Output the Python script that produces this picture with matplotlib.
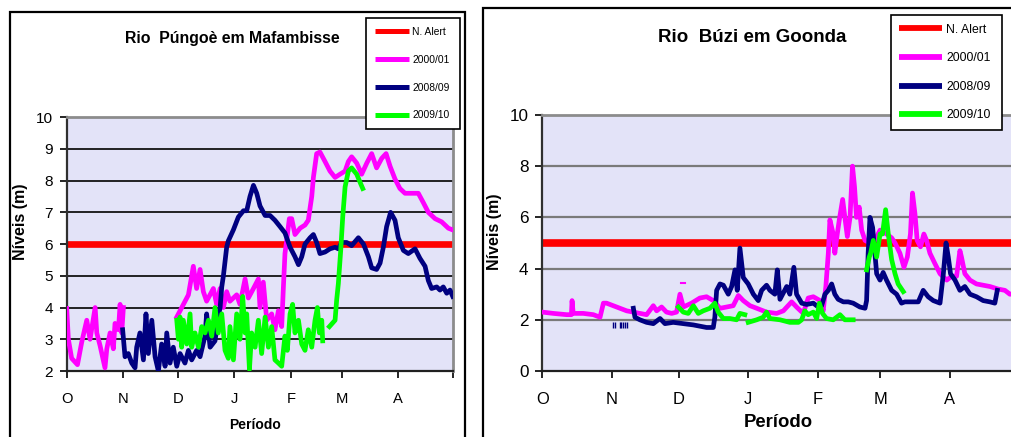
"""Water level charts for Rio Púngoè (Mafambisse) and Rio Búzi (Goonda)."""

import matplotlib

matplotlib.use("Agg")
import matplotlib.pyplot as plt
import numpy as np
from matplotlib import font_manager
from matplotlib.patches import Rectangle

NAN = np.nan

# x axis: days since 1 October, month ticks
MONTH_DAYS = [0, 31, 61, 92, 123, 151, 182, 212]
MONTH_LABELS = ["O", "N", "D", "J", "F", "M", "A", ""]
SERIES_LABELS = ["N. Alert", "2000/01", "2008/09", "2009/10"]

# ---- Rio Púngoè em Mafambisse ----
PUNGOE_ALERT = 6.0
pungoe_0001_day = [0.0, 0.9, 2.7, 5.9, 8.2, 11.0, 12.8, 15.6, 16.5, 18.3, 21.0, 22.0, 23.8,
                   25.6, 26.5, 28.4, 29.3, 30.2, 31.1, NAN,
                   60.4, 66.8, 69.5, 71.3, 73.2, 75.0, 76.8, 80.5, 82.3, 84.2, 86.0, 87.8,
                   89.6, 93.3, 95.1, 97.9, 99.7, 102.5, 105.2, 106.1, 107.9, 109.8, 112.5,
                   114.3, 116.2, 118.0, 118.9, 119.8, 120.7, 122.2, 123.5, 125.3, 128.1,
                   130.8, 132.6, 134.5, 135.4, 137.2, 139.0, 141.8, 144.5, 147.3, 150.0,
                   152.8, 154.6, 156.4, 159.2, 161.9, 164.7, 167.4, 170.1, 172.9, 175.3,
                   177.5, 180.2, 182.9, 185.7, 189.4, 193.0, 195.8, 198.5, 202.2, 205.8,
                   209.5, 211.7]
pungoe_0001_lvl = [3.97, 3.0, 2.4, 2.2, 2.9, 3.6, 3.0, 4.0, 3.2, 2.8, 2.1, 2.7, 3.2,
                   2.7, 3.5, 3.3, 4.1, 3.2, 4.0, NAN,
                   3.7, 4.4, 5.3, 4.6, 5.2, 4.5, 4.2, 4.6, 4.1, 4.6, 4.0, 4.5,
                   4.2, 4.4, 4.1, 4.9, 4.3, 4.6, 4.9, 4.0, 4.8, 3.6, 3.8,
                   3.3, 3.9, 3.4, 4.6, 5.7, 6.1, 6.8, 6.8, 6.3, 6.5,
                   6.6, 6.75, 7.5, 8.1, 8.85, 8.9, 8.6, 8.3, 8.1, 8.2,
                   8.3, 8.6, 8.75, 8.55, 8.2, 8.55, 8.85, 8.4, 8.7, 8.85,
                   8.45, 8.05, 7.75, 7.6, 7.6, 7.6, 7.3, 7.0, 6.8, 6.7,
                   6.5, 6.45]
pungoe_0809_day = [30.7, 32.0, 33.8, 35.7, 37.5, 38.4, 40.2, 42.1, 43.5, 44.8, 46.7, 48.5,
                   50.3, 52.1, 54.0, 54.9, 56.7, 58.5, 60.4, 62.2, 64.9, 66.8, 68.6, 71.3,
                   73.2, 75.9, 76.8, 78.7, 81.4, 83.2, 84.2, 85.1, 86.0, 87.8, 88.7, 91.5,
                   94.2, 97.0, 98.8, 100.6, 102.5, 104.3, 106.1, 108.9, 111.6, 114.3, 117.1,
                   119.8, 122.6, 125.3, 127.2, 129.0, 130.8, 133.6, 135.4, 137.2, 139.0,
                   141.8, 144.5, 147.3, 149.1, 150.9, 153.7, 156.4, 160.1, 162.9, 165.6,
                   167.4, 170.1, 172.0, 173.8, 175.6, 177.8, 180.2, 182.0, 184.8, 187.5,
                   191.2, 193.9, 196.7, 198.5, 200.3, 203.1, 204.9, 206.7, 208.6, 210.4,
                   211.9]
pungoe_0809_lvl = [3.3, 2.45, 2.55, 2.25, 2.1, 2.75, 3.2, 2.35, 3.8, 2.55, 3.6, 2.45,
                   2.0, 2.85, 2.15, 3.2, 2.25, 2.75, 2.15, 2.55, 2.25, 2.65, 2.35, 2.65,
                   2.45, 3.1, 3.8, 2.75, 2.95, 3.7, 4.0, 4.65, 5.0, 5.9, 6.1, 6.45,
                   6.85, 7.05, 7.05, 7.5, 7.85, 7.6, 7.2, 6.9, 6.9, 6.75, 6.55,
                   6.35, 5.9, 5.6, 5.35, 5.6, 6.0, 6.2, 6.3, 6.05, 5.7,
                   5.75, 5.85, 5.9, 5.85, 6.05, 6.05, 5.95, 6.2, 6.0, 5.6,
                   5.25, 5.2, 5.4, 5.9, 6.55, 7.0, 6.75, 6.2, 5.8, 5.7,
                   5.85, 5.55, 5.3, 4.85, 4.6, 4.65, 4.55, 4.65, 4.45, 4.55,
                   4.35]
pungoe_0910_day = [60.4, 61.3, 62.2, 63.1, 64.0, 65.9, 67.7, 68.6, 70.4, 72.3, 74.1, 75.9,
                   77.8, 79.6, 81.4, 83.2, 85.1, 86.9, 88.7, 89.6, 91.5, 93.3, 95.1, 96.6,
                   97.9, 98.8, 100.3, 101.5, 103.4, 105.2, 107.0, 108.9, 110.7, 112.5,
                   114.3, 116.2, 118.0, 119.8, 121.1, 122.6, 124.0, 125.3, 127.2, 129.0,
                   130.8, 132.6, 134.5, 136.3, 137.6, 138.7, 140.0, 140.5, NAN,
                   144.2, 147.3, 148.2, 149.1, 150.4, 151.5, 152.8, 154.6, 156.4, 159.2,
                   161.0, 162.5]
pungoe_0910_lvl = [3.6, 3.0, 3.7, 2.75, 3.6, 2.85, 3.8, 2.75, 3.2, 2.75, 3.4, 3.2,
                   3.6, 3.1, 4.0, 3.2, 3.8, 2.65, 2.4, 3.4, 2.35, 3.8, 3.0, 4.35,
                   3.2, 3.8, 2.05, 3.2, 2.75, 3.6, 2.55, 3.7, 2.75, 3.4,
                   2.35, 2.25, 2.15, 3.1, 2.65, 3.8, 4.1, 3.2, 3.6, 2.85,
                   2.65, 3.3, 2.75, 3.6, 4.0, 3.2, 3.6, 2.95, NAN,
                   3.4, 3.6, 4.25, 4.75, 5.8, 6.85, 7.8, 8.3, 8.4, 8.2,
                   7.95, 7.75]

# ---- Rio Búzi em Goonda ----
BUZI_ALERT = 5.0
buzi_0001_day = [0, 4.9, 10.9, 13.0, 13.3, 13.8, 18.3, 22.8, 25.8, 27.3,
                 28.7, 33.2, 37.7, 40.7, 43.6, 46.6, 49.6, 51.1, 53.3, 55.5,
                 57.8, 60.0, 61.5, 63.0, 66.7, 70.4, 73.4, 76.4, 79.4, 82.4,
                 85.3, 87.6, 89.8, 92.8, 95.8, 100.2, 104.7, 107.7, 111.4, 113.6,
                 116.6, 118.8, 121.1, 124.1, 125.5, 126.7, 127.8, 128.5, 130.0, 130.7,
                 131.8, 132.7, 134.2, 135.2, 136.3, 137.5, 138.6, 139.5, 140.4, 141.6,
                 142.7, 144.2, 146.4, 148.6, 150.9, 153.8, 156.1, 157.6, 159.8, 161.6,
                 163.1, 164.5, 165.4, 166.5, 167.5, 169.0, 170.5, 171.7, 173.2, 175.4,
                 177.7, 180.7, 182.9, 185.1, 186.6, 187.3, 188.8, 191.1, 194.0, 197.0,
                 200.0, 203.7, 206.7, 208.9, 212.0]
buzi_0001_lvl = [2.3, 2.25, 2.2, 2.2, 2.75, 2.25, 2.25, 2.2, 2.1, 2.65,
                 2.65, 2.5, 2.35, 2.3, 2.25, 2.2, 2.55, 2.35, 2.5, 2.3,
                 2.25, 2.3, 3.0, 2.5, 2.65, 2.85, 2.9, 2.75, 2.45, 2.5,
                 2.55, 2.95, 2.75, 2.55, 2.45, 2.3, 2.25, 2.35, 2.7, 2.5,
                 2.25, 2.85, 2.9, 2.75, 2.35, 3.3, 4.6, 5.9, 5.35, 4.6,
                 5.35, 5.9, 6.7, 6.0, 5.25, 6.0, 8.0, 7.2, 6.0, 6.4,
                 5.5, 5.1, 5.0, 5.1, 5.5, 5.35, 5.2, 5.0, 4.6, 4.05,
                 4.45, 5.35, 6.95, 6.15, 5.1, 4.85, 5.35, 5.1, 4.6, 4.2,
                 3.8, 3.55, 3.7, 3.7, 4.7, 4.45, 3.8, 3.55, 3.4, 3.35,
                 3.3, 3.2, 3.15, 3.0, 3.0]
buzi_0001_dash_day = [62.0, 63.6]
buzi_0001_dash_lvl = [3.45, 3.45]
buzi_0809_day = [40.7, 41.4, 43.6, 46.6, 49.6, 52.6, 54.8, 58.5, 63.0, 67.5, 73.4, 76.4,
                 77.1, 77.9, 79.4, 80.9, 83.1, 84.6, 86.1, 87.1, 88.3, 89.8, 92.0, 94.3,
                 96.5, 98.0, 100.2, 101.7, 103.9, 105.0, 106.2, 109.2, 110.6, 112.4,
                 113.6, 115.9, 118.1, 121.1, 123.3, 124.8, 126.3, 127.8, 129.3, 130.7,
                 132.2, 134.5, 136.7, 138.9, 141.9, 144.2, 144.9, 145.6, 146.4, 147.6,
                 148.6, 149.4, 150.9, 152.3, 153.8, 156.1, 158.3, 160.5, 162.0, 165.0,
                 168.0, 170.2, 172.4, 174.7, 177.7, 179.2, 180.4, 181.4, 182.4, 184.4,
                 186.6, 188.8, 191.1, 194.0, 197.0, 200.0, 202.2, 203.3]
buzi_0809_lvl = [2.45, 2.1, 2.0, 1.9, 1.85, 2.05, 1.85, 1.9, 1.85, 1.8, 1.7, 1.7,
                 2.1, 3.15, 3.4, 3.35, 3.0, 3.3, 3.95, 3.15, 4.8, 3.65, 3.4, 3.0,
                 2.75, 3.15, 3.35, 3.15, 3.0, 3.95, 2.8, 3.3, 3.0, 4.05,
                 3.0, 2.65, 2.6, 2.65, 2.5, 2.55, 3.0, 3.15, 3.4, 3.0,
                 2.8, 2.7, 2.7, 2.65, 2.5, 2.45, 2.75, 4.6, 6.0, 5.6,
                 4.6, 3.8, 3.55, 3.85, 3.55, 3.15, 3.0, 2.65, 2.7, 2.7,
                 2.7, 3.15, 2.9, 2.75, 2.65, 3.8, 5.0, 4.45, 3.8, 3.55,
                 3.15, 3.3, 3.0, 2.9, 2.75, 2.7, 2.65, 3.15]
buzi_0809_frag_day = [31.5, 32.3, 34.5, 35.3, 36.1, 36.9, 37.7]
buzi_0809_frag_lvl = [1.8, 1.8, 1.8, 1.8, 1.8, 1.8, 1.8]
buzi_0910_day = [60.8, 63.0, 65.2, 67.5, 69.7, 71.9, 74.9, 77.1, 78.6, 80.9, 83.8, 86.8,
                 88.3, 90.5, NAN,
                 92.0, 95.8, 98.7, 100.2, 101.7, 106.2, 110.6, 114.4, 115.9, 117.3,
                 118.8, 121.1, 122.6, 123.8, 125.2, 127.0, 130.0, 133.0, 135.2, 138.9, NAN,
                 144.9, 146.1, 146.7, 147.9, 149.4, 150.9, 152.0, 153.4, 154.6, 156.1,
                 157.6, 159.0, 161.3]
buzi_0910_lvl = [2.5, 2.3, 2.25, 2.55, 2.25, 2.35, 2.45, 2.65, 2.3, 2.05, 2.05, 2.0,
                 2.25, 2.2, NAN,
                 1.9, 2.0, 2.1, 2.3, 2.05, 2.0, 1.9, 1.9, 2.0, 2.35,
                 2.2, 2.3, 2.05, 2.65, 2.25, 2.05, 2.0, 2.2, 2.0, 2.0, NAN,
                 3.95, 4.45, 4.6, 5.1, 4.45, 5.35, 5.35, 6.3, 5.35, 4.35,
                 3.8, 3.4, 3.1]

COLORS = ["#ff0000", "#ff00ff", "#000080", "#00ff00"]
PLOT_BG = "#e3e3f8"

# a narrow face is used when present, otherwise the regular one at a smaller size
installed = {f.name for f in font_manager.fontManager.ttflist}
if "Liberation Sans Narrow" in installed:
    NARROW, NSCALE = "Liberation Sans Narrow", 1.0
else:
    NARROW, NSCALE = "Liberation Sans", 0.82
plt.rcParams["font.family"] = ["Liberation Sans", "DejaVu Sans"]


def style_axes(ax, *, ylim, yticks, grid_color, grid_lw, ysize, xsize):
    ax.set_facecolor(PLOT_BG)
    ax.set_xlim(0, 212)
    ax.set_ylim(*ylim)
    ax.set_xticks(MONTH_DAYS)
    ax.set_xticklabels(MONTH_LABELS, fontsize=xsize, family=NARROW)
    ax.set_yticks(yticks)
    ax.set_yticklabels([str(t) for t in yticks], fontsize=ysize, family=NARROW)
    for t in yticks[1:-1]:
        ax.axhline(t, color=grid_color, lw=grid_lw, zorder=1)
    ax.tick_params(axis="both", direction="out", length=5, width=1.2, color="black")
    ax.tick_params(axis="x", pad=10)
    ax.tick_params(axis="y", pad=5)
    for side in ("top", "right"):
        ax.spines[side].set_color("#8c8c8c")
        ax.spines[side].set_linewidth(2.0)
    ax.spines["left"].set_color("#303030")
    ax.spines["left"].set_linewidth(1.6)
    ax.spines["bottom"].set_color("#202020")
    ax.spines["bottom"].set_linewidth(1.6)


fig = plt.figure(figsize=(10.11, 4.37), dpi=100)
fig.patch.set_facecolor("white")

# panel frames
fig.add_artist(Rectangle((10 / 1011, -0.05), 455 / 1011, 0.9725 + 0.05, transform=fig.transFigure,
                         fill=False, edgecolor="black", lw=1.6))
fig.add_artist(Rectangle((483 / 1011, -0.05), 0.6, 0.9817 + 0.05, transform=fig.transFigure,
                         fill=False, edgecolor="black", lw=1.6))

# ---- left panel ----
ax1 = fig.add_axes([0.066, 0.151, 0.382, 0.581])
style_axes(ax1, ylim=(2, 10), yticks=list(range(2, 11)), grid_color="black", grid_lw=1.2,
           ysize=13 * NSCALE * 1.04, xsize=13 * NSCALE * 1.0)
h_alert, = ax1.plot([0, 212], [PUNGOE_ALERT, PUNGOE_ALERT], color=COLORS[0], lw=4.8, zorder=2)
h1, = ax1.plot(pungoe_0001_day, pungoe_0001_lvl, color=COLORS[1], lw=3.4, zorder=3)
h2, = ax1.plot(pungoe_0809_day, pungoe_0809_lvl, color=COLORS[2], lw=3.4, zorder=4)
h3, = ax1.plot(pungoe_0910_day, pungoe_0910_lvl, color=COLORS[3], lw=3.4, zorder=5)
leg1 = fig.legend([h_alert, h1, h2, h3], SERIES_LABELS, loc="upper left",
                  bbox_to_anchor=(366 / 1011, 0.959, 94 / 1011, 0.0), mode="expand",
                  prop={"family": NARROW, "size": 9 * NSCALE}, fancybox=False,
                  edgecolor="black", framealpha=1, borderpad=0.85, labelspacing=1.75,
                  handlelength=3.3, handletextpad=0.35, borderaxespad=0)
leg1.get_frame().set_linewidth(1.2)
for line in leg1.get_lines():
    line.set_linewidth(3.6)
    line.set_solid_capstyle("butt")
fig.text(0.2295, 0.911, "Rio  Púngoè em Mafambisse", ha="center", va="center",
         fontsize=14 * NSCALE, fontweight="bold", family=NARROW)
fig.text(0.020, 0.492, "Níveis (m)", rotation=90, ha="center", va="center",
         fontsize=11.5, fontweight="bold")
fig.text(0.252, 0.027, "Período", ha="center", va="center", fontsize=12.2 * NSCALE,
         fontweight="bold", family=NARROW)

# ---- right panel ----
ax2 = fig.add_axes([0.5364, 0.151, 0.4693, 0.586])
style_axes(ax2, ylim=(0, 10), yticks=list(range(0, 11, 2)), grid_color="#7a7a7a", grid_lw=1.6,
           ysize=15 * NSCALE, xsize=14.5 * NSCALE)
ax2.spines["right"].set_visible(False)
g_alert, = ax2.plot([0, 212], [BUZI_ALERT, BUZI_ALERT], color=COLORS[0], lw=5.5, zorder=2)
g1, = ax2.plot(buzi_0001_day, buzi_0001_lvl, color=COLORS[1], lw=3.4, zorder=3)
ax2.plot(buzi_0001_dash_day, buzi_0001_dash_lvl, color=COLORS[1], lw=1.5, zorder=3)
g2, = ax2.plot(buzi_0809_day, buzi_0809_lvl, color=COLORS[2], lw=3.4, zorder=4)
ax2.plot(buzi_0809_frag_day, buzi_0809_frag_lvl, ls="none", marker="|", ms=5, mew=1.0,
         color=COLORS[2], zorder=4)
g3, = ax2.plot(buzi_0910_day, buzi_0910_lvl, color=COLORS[3], lw=3.4, zorder=5)
leg2 = fig.legend([g_alert, g1, g2, g3], SERIES_LABELS, loc="upper left",
                  bbox_to_anchor=(890.7 / 1011, 1 - 15 / 437, 111 / 1011, 0.0), mode="expand",
                  prop={"family": NARROW, "size": 10.8 * NSCALE}, fancybox=False,
                  edgecolor="black", framealpha=1, borderpad=0.7, labelspacing=1.35,
                  handlelength=3.5, handletextpad=0.3, borderaxespad=0)
leg2.get_frame().set_linewidth(1.2)
for line in leg2.get_lines():
    line.set_linewidth(4.2)
    line.set_solid_capstyle("butt")
fig.text(0.744, 0.915, "Rio  Búzi em Goonda", ha="center", va="center",
         fontsize=13.5, fontweight="bold")
fig.text(0.4896, 0.469, "Níveis (m)", rotation=90, ha="center", va="center",
         fontsize=11.5, fontweight="bold")
fig.text(0.7696, 0.034, "Período", ha="center", va="center", fontsize=13.3,
         fontweight="bold")

fig.savefig("out.png", dpi=100)
